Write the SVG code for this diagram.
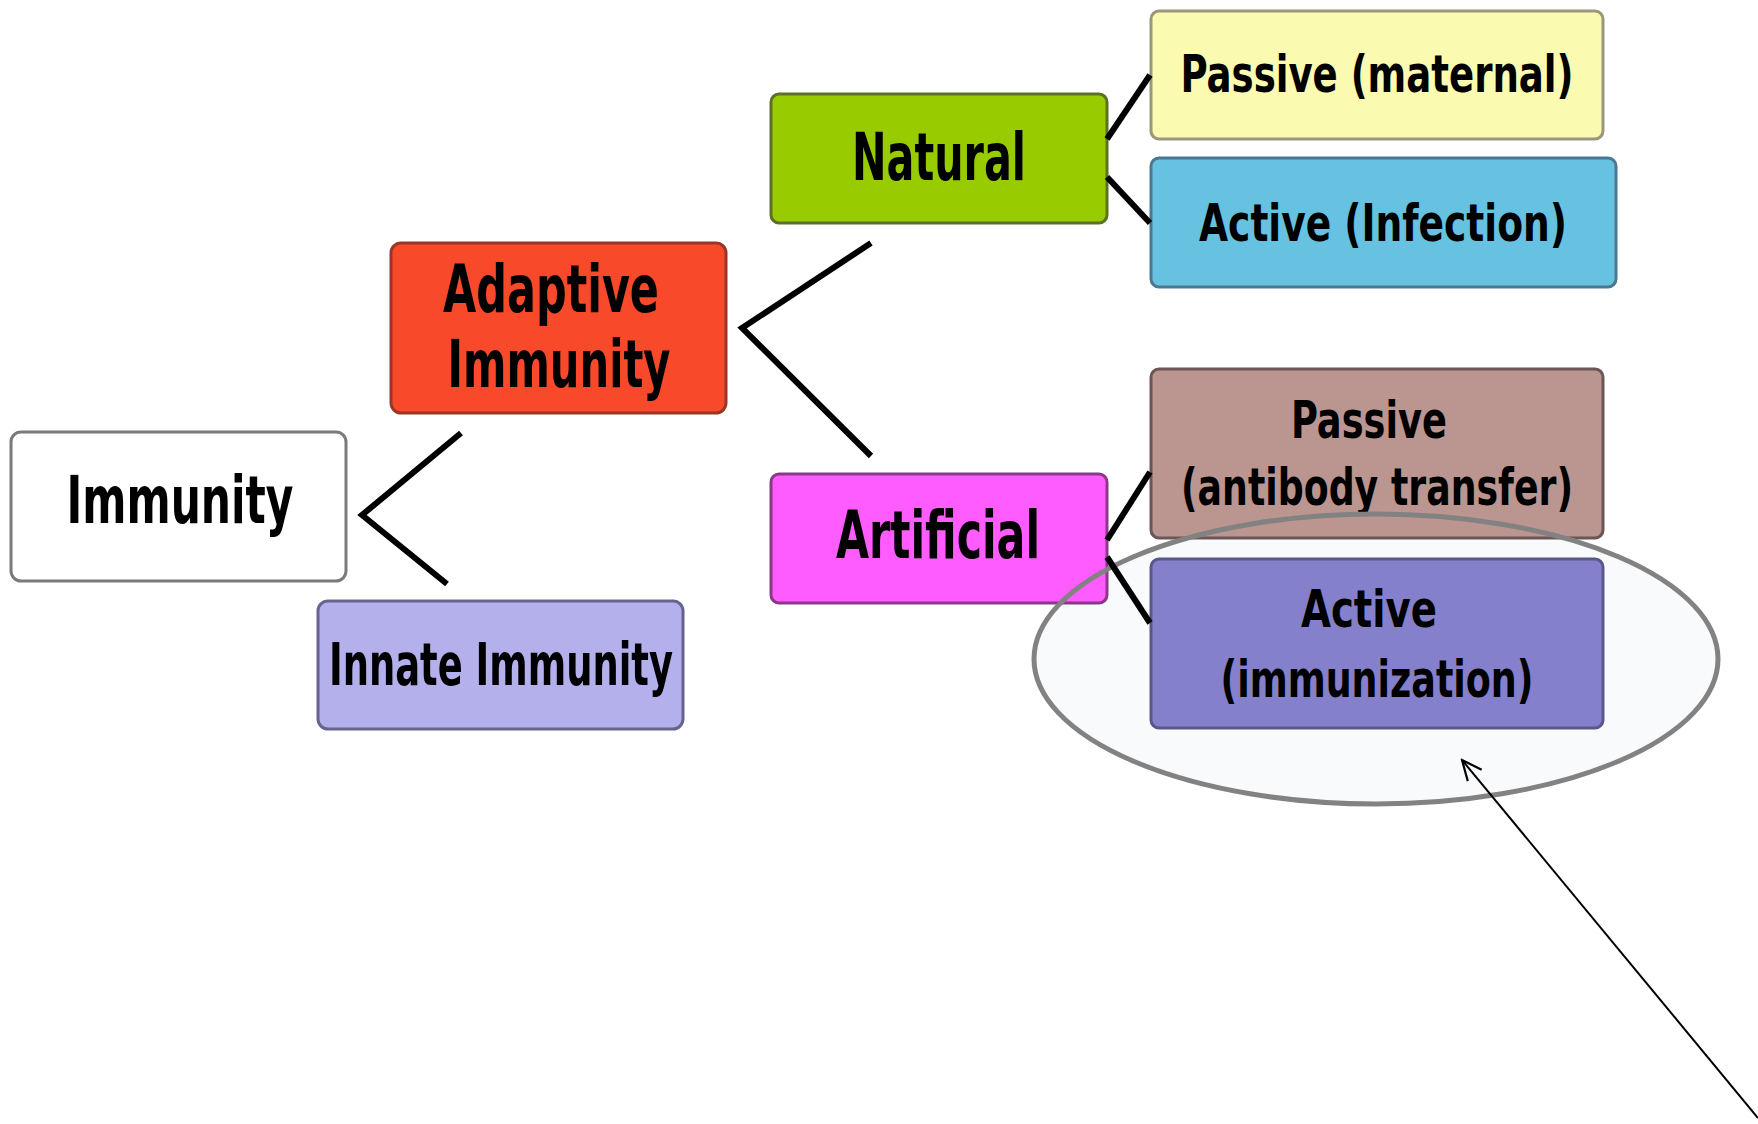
<svg xmlns="http://www.w3.org/2000/svg" width="1758" height="1124" viewBox="0 0 1758 1124">
<defs>
<style>
.box{stroke-width:3}
.t{font-family:"Liberation Sans Narrow","DejaVu Sans Condensed","Liberation Sans",sans-serif;font-weight:bold;text-anchor:middle;fill:#000}
.big{font-size:66px}
.mid{font-size:58px}
.sm{font-size:52px}
.conn{stroke:#000;stroke-width:6;fill:none;stroke-linecap:butt;stroke-linejoin:miter}
</style>
<marker id="open" viewBox="0 0 24 24" refX="22" refY="12" markerWidth="24" markerHeight="24" markerUnits="userSpaceOnUse" orient="auto">
<path d="M2,3 L22,12 L2,21" fill="none" stroke="#000" stroke-width="2.2"/>
</marker>
</defs>
<rect width="1758" height="1124" fill="#fff"/>
<ellipse cx="1376" cy="659" rx="342" ry="145" fill="#f8fafc" stroke="none"/>

<g id="node-immunity">
<rect class="box" x="11" y="432" width="335" height="149" rx="10" fill="#ffffff" stroke="#7a7a7a"/>
<text class="t big" x="180" y="523" textLength="227" lengthAdjust="spacingAndGlyphs">Immunity</text>
</g>
<g id="node-adaptive">
<rect class="box" x="391" y="243" width="335" height="170" rx="10" fill="#f84a2a" stroke="#9a3626"/>
<text class="t big" x="551" y="312" textLength="216" lengthAdjust="spacingAndGlyphs">Adaptive</text>
<text class="t big" x="559" y="387" textLength="223" lengthAdjust="spacingAndGlyphs">Immunity</text>
</g>
<g id="node-innate">
<rect class="box" x="318" y="601" width="365" height="128" rx="10" fill="#b3b0ec" stroke="#66648c"/>
<text class="t mid" x="501" y="685" textLength="344" lengthAdjust="spacingAndGlyphs">Innate Immunity</text>
</g>
<g id="node-natural">
<rect class="box" x="771" y="94" width="336" height="129" rx="8" fill="#99cc00" stroke="#5c7222"/>
<text class="t big" x="939" y="180" textLength="174" lengthAdjust="spacingAndGlyphs">Natural</text>
</g>
<g id="node-artificial">
<rect class="box" x="771" y="474" width="336" height="129" rx="8" fill="#ff5cff" stroke="#8a3888"/>
<text class="t big" x="938" y="558" textLength="204" lengthAdjust="spacingAndGlyphs">Artificial</text>
</g>
<g id="node-passive-maternal">
<rect class="box" x="1151" y="11" width="452" height="128" rx="8" fill="#fafab0" stroke="#9a977a"/>
<text class="t sm" x="1377" y="92" textLength="393" lengthAdjust="spacingAndGlyphs">Passive (maternal)</text>
</g>
<g id="node-active-infection">
<rect class="box" x="1151" y="158" width="465" height="129" rx="8" fill="#66c2e0" stroke="#4a7890"/>
<text class="t sm" x="1383" y="241" textLength="368" lengthAdjust="spacingAndGlyphs">Active (Infection)</text>
</g>
<g id="node-passive-antibody">
<rect class="box" x="1151" y="369" width="452" height="169" rx="8" fill="#bb9590" stroke="#6a5656"/>
<text class="t sm" x="1369" y="438" textLength="156" lengthAdjust="spacingAndGlyphs">Passive</text>
<text class="t sm" x="1377" y="505" textLength="392" lengthAdjust="spacingAndGlyphs">(antibody transfer)</text>
</g>
<g id="node-active-immunization">
<rect class="box" x="1151" y="559" width="452" height="169" rx="8" fill="#8580cc" stroke="#5a5888"/>
<text class="t sm" x="1369" y="627" textLength="136" lengthAdjust="spacingAndGlyphs" fill="#16163a">Active</text>
<text class="t sm" x="1377" y="697" textLength="313" lengthAdjust="spacingAndGlyphs" fill="#16163a">(immunization)</text>
</g>

<g id="highlight">
<ellipse cx="1376" cy="659" rx="342" ry="145" fill="none" stroke="#828282" stroke-width="5"/>
</g>

<g id="connectors">
<polyline class="conn" points="461,433 362,515 447,584"/>
<polyline class="conn" points="871,243 742,328 871,456"/>
<line class="conn" x1="1107" y1="139" x2="1150" y2="75"/>
<line class="conn" x1="1107" y1="177" x2="1150" y2="223"/>
<line class="conn" x1="1107" y1="540" x2="1150" y2="472"/>
<line class="conn" x1="1107" y1="557" x2="1150" y2="623"/>
<line x1="1758" y1="1118" x2="1462" y2="760" stroke="#000" stroke-width="2" marker-end="url(#open)"/>
</g>
</svg>
